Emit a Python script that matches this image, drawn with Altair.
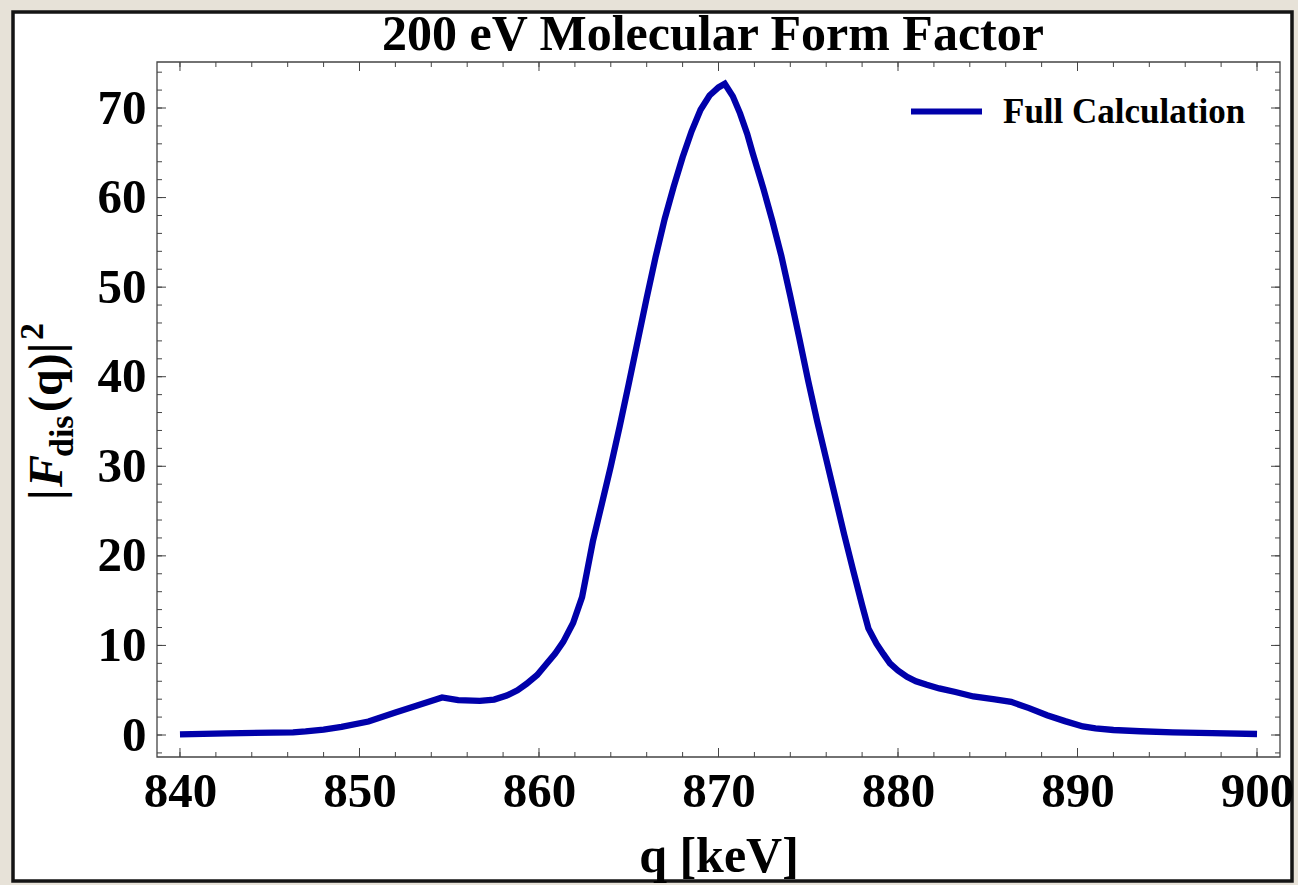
import altair as alt
import pandas as pd

# ---- data ----
q_kev = [840.0, 842.6, 846.3, 847.0, 848.0, 849.0, 850.5, 852.0, 853.3, 854.6,
         855.5, 856.7, 857.5, 858.2, 858.8, 859.3, 859.9, 860.4, 860.9, 861.35,
         861.9, 862.4, 862.7, 863.0, 863.5, 864.0, 864.5, 865.0, 865.5, 866.0,
         866.5, 867.0, 867.5, 868.0, 868.5, 869.0, 869.5, 870.0, 870.35, 870.8,
         871.2, 871.6, 871.9, 872.5, 873.0, 873.5, 874.0, 874.5, 875.0, 875.5,
         876.0, 876.5, 877.0, 877.5, 878.0, 878.35, 878.8, 879.2, 879.55, 880.0,
         880.5, 881.0, 881.6, 882.3, 883.2, 884.2, 885.3, 886.3, 887.3, 888.3,
         889.3, 890.3, 891.0, 892.0, 893.5, 895.3, 897.5, 900.0]
f_dis = [0.08, 0.19, 0.3, 0.4, 0.6, 0.9, 1.5, 2.5, 3.35, 4.2,
         3.9, 3.8, 3.95, 4.4, 5.0, 5.7, 6.7, 7.9, 9.1, 10.4,
         12.5, 15.4, 18.5, 21.6, 25.8, 30.0, 34.5, 39.2, 44.0, 48.8,
         53.4, 57.6, 61.2, 64.5, 67.4, 69.8, 71.4, 72.3, 72.7, 71.3,
         69.4, 67.1, 65.0, 61.0, 57.4, 53.5, 49.0, 44.3, 39.5, 35.0,
         30.8, 26.6, 22.4, 18.4, 14.5, 11.9, 10.2, 9.0, 8.0, 7.2,
         6.5, 6.0, 5.6, 5.2, 4.8, 4.3, 4.0, 3.7, 3.0, 2.2,
         1.55, 0.95, 0.75, 0.56, 0.42, 0.3, 0.22, 0.11]
series_name = ["Full Calculation"]

x_major = list(range(840, 901, 10))
x_minor = list(range(840, 901, 2))
y_major = list(range(0, 71, 10))
y_minor = list(range(-2, 75, 2))

chart_title = "200 eV Molecular Form Factor"
x_title = "q [keV]"

# ---- layout / style ----
W, H = 1123, 695
FONT = "Liberation Serif"
BLUE = "#0000aa"
FRAME = "#444444"
MAJ, MIN = 9, 5

line_df = pd.DataFrame({"q": q_kev, "F": f_dis, "series": series_name * len(q_kev)})
one = pd.DataFrame({"k": [0]})

xscale = alt.Scale(domain=[838.72, 901.28], nice=False, zero=False)
yscale = alt.Scale(domain=[-2.456, 75.136], nice=False, zero=False)

xaxis = alt.Axis(values=x_major, title=x_title, ticks=False, tickSize=0, domain=False,
                 grid=False, labelFont=FONT, labelFontSize=49, labelFontWeight="bold",
                 labelColor="black", labelPadding=10, labelOverlap=False, labelFlush=False,
                 titleFont=FONT, titleFontSize=50, titleFontWeight="bold",
                 titleColor="black", titlePadding=15, format="d", zindex=1)
yaxis = alt.Axis(values=y_major, title=None, ticks=False, tickSize=0, domain=False,
                 grid=False, labelFont=FONT, labelFontSize=49, labelFontWeight="bold",
                 labelColor="black", labelPadding=11, labelOverlap=False, labelFlush=False,
                 format="d", zindex=1)

X = alt.X("q:Q", scale=xscale, axis=xaxis)
Y = alt.Y("F:Q", scale=yscale, axis=yaxis)

# white panel with dark border (decoration)
panel = alt.Chart(one).mark_rect(fill="white", stroke="#141414", strokeWidth=3.5).encode(
    x=alt.value(-144), x2=alt.value(1135), y=alt.value(-50), y2=alt.value(819))

frame = alt.Chart(one).mark_rect(filled=False, stroke=FRAME, strokeWidth=1.3).encode(
    x=alt.value(0), x2=alt.value(W), y=alt.value(0), y2=alt.value(H))

line = alt.Chart(line_df).mark_line(strokeWidth=6.3).encode(
    x=X, y=Y,
    color=alt.Color("series:N", scale=alt.Scale(domain=series_name, range=[BLUE]),
                    legend=alt.Legend(orient="none", legendX=751, legendY=11,
                                      symbolType="stroke", symbolSize=5041,
                                      symbolStrokeWidth=6, labelFont=FONT,
                                      labelFontSize=35, labelFontWeight="bold",
                                      labelColor="black", labelOffset=18, padding=0,
                                      title=None, labelLimit=0, zindex=1)))

def xticks(vals, length):
    df = pd.DataFrame({"q": vals})
    bot = alt.Chart(df).mark_rule(color=FRAME, strokeWidth=1).encode(
        x=X, y=alt.value(H), y2=alt.value(H - length))
    top = alt.Chart(df).mark_rule(color=FRAME, strokeWidth=1).encode(
        x=X, y=alt.value(0), y2=alt.value(length))
    return [bot, top]

def yticks(vals, length):
    df = pd.DataFrame({"F": vals})
    left = alt.Chart(df).mark_rule(color=FRAME, strokeWidth=1).encode(
        y=Y, x=alt.value(0), x2=alt.value(length))
    right = alt.Chart(df).mark_rule(color=FRAME, strokeWidth=1).encode(
        y=Y, x=alt.value(W), x2=alt.value(W - length))
    return [left, right]

tick_layers = xticks(x_minor, MIN) + xticks(x_major, MAJ) + yticks(y_minor, MIN) + yticks(y_major, MAJ)

# chart title as a text mark
title = alt.Chart(one).mark_text(text=chart_title, align="center", baseline="alphabetic",
                                 font=FONT, fontSize=50, fontWeight="bold",
                                 color="black").encode(
    x=alt.value(556), y=alt.value(-12))

# y-axis title pieces: |F_dis(q)|^2 (rotated)
def ytext(txt, xpos, ypos, size, style="normal"):
    return alt.Chart(one).mark_text(text=txt, angle=270, align="left", baseline="alphabetic",
                                    font=FONT, fontSize=size, fontWeight="bold",
                                    fontStyle=style, color="black").encode(
        x=alt.value(xpos), y=alt.value(ypos))

ylabel = [
    ytext("|", -95, 438, 48),
    ytext("F", -95, 425, 48, "italic"),
    ytext("dis", -84, 395, 34),
    ytext("(q)|", -95, 350, 48),
    ytext("2", -114, 278, 34),
]

chart = alt.layer(panel, frame, *tick_layers, line, title, *ylabel).properties(
    width=W, height=H,
    padding={"left": 157, "top": 62, "right": 18, "bottom": 128},
    autosize=alt.AutoSizeParams(type="none"),
    background="#e7e2d8",
).configure_view(strokeWidth=0)

chart.save("out.html", embed_options={"renderer": "svg", "actions": False})
